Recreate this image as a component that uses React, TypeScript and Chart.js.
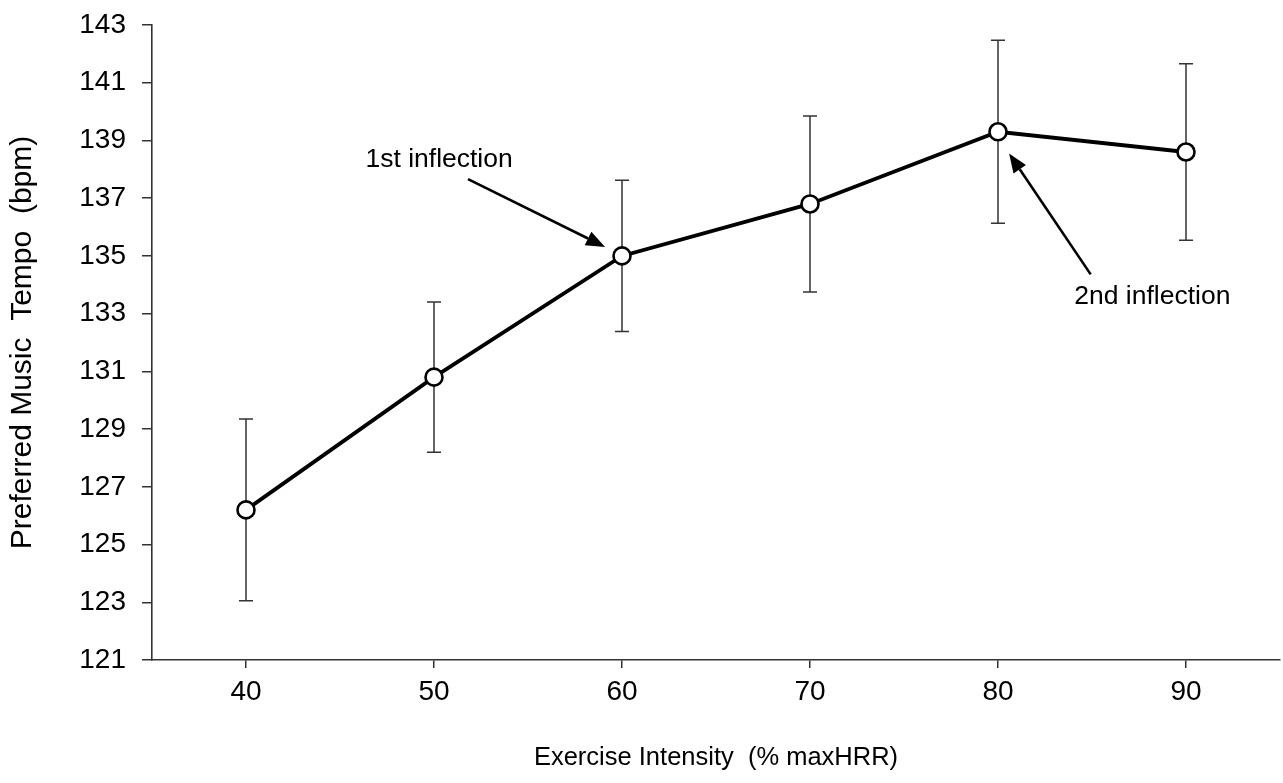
import React, { useEffect, useRef } from "react";
import { Chart, registerables } from "chart.js";

Chart.register(...registerables);

const intensity = [40, 50, 60, 70, 80, 90];
const tempoMean = [126.2, 130.8, 135.0, 136.8, 139.3, 138.6];
const tempoErr = [3.15, 2.6, 2.62, 3.05, 3.17, 3.06];
const xTicks = [40, 50, 60, 70, 80, 90];
const yTicks = [121, 123, 125, 127, 129, 131, 133, 135, 137, 139, 141, 143];

const annotationTexts = ["1st inflection", "2nd inflection"];
const annotationTextPos = [
  [50.27, 138.32],
  [88.21, 133.58],
];
const arrowTails = [
  [51.81, 137.66],
  [84.93, 134.36],
];
const arrowTips = [
  [59.1, 135.31],
  [80.59, 138.55],
];

const FONT = "'Liberation Sans', Arial, Helvetica, sans-serif";

const errorBarPlugin = {
  id: "errorBars",
  beforeDatasetsDraw(chart: any) {
    const { ctx, scales } = chart;
    const xs = scales.x;
    const ys = scales.y;
    ctx.save();
    ctx.strokeStyle = "#333";
    ctx.lineWidth = 1.5;
    const cap = 7;
    intensity.forEach((xv, i) => {
      const x = xs.getPixelForValue(xv);
      const yt = ys.getPixelForValue(tempoMean[i] + tempoErr[i]);
      const yb = ys.getPixelForValue(tempoMean[i] - tempoErr[i]);
      ctx.beginPath();
      ctx.moveTo(x, yt);
      ctx.lineTo(x, yb);
      ctx.moveTo(x - cap, yt);
      ctx.lineTo(x + cap, yt);
      ctx.moveTo(x - cap, yb);
      ctx.lineTo(x + cap, yb);
      ctx.stroke();
    });
    ctx.restore();
  },
};

const annotationPlugin = {
  id: "annotations",
  afterDatasetsDraw(chart: any) {
    const { ctx, scales } = chart;
    const xs = scales.x;
    const ys = scales.y;
    ctx.save();
    ctx.fillStyle = "#000";
    ctx.strokeStyle = "#000";
    ctx.font = `26.5px ${FONT}`;
    ctx.textAlign = "center";
    ctx.textBaseline = "middle";
    annotationTexts.forEach((t, i) => {
      ctx.fillText(
        t,
        xs.getPixelForValue(annotationTextPos[i][0]),
        ys.getPixelForValue(annotationTextPos[i][1])
      );
    });
    ctx.lineWidth = 2.6;
    arrowTails.forEach((tail, i) => {
      const x0 = xs.getPixelForValue(tail[0]);
      const y0 = ys.getPixelForValue(tail[1]);
      const x1 = xs.getPixelForValue(arrowTips[i][0]);
      const y1 = ys.getPixelForValue(arrowTips[i][1]);
      const ang = Math.atan2(y1 - y0, x1 - x0);
      const len = 19;
      const hw = 7.5;
      const bx = x1 - len * Math.cos(ang);
      const by = y1 - len * Math.sin(ang);
      ctx.beginPath();
      ctx.moveTo(x0, y0);
      ctx.lineTo(bx, by);
      ctx.stroke();
      ctx.beginPath();
      ctx.moveTo(x1, y1);
      ctx.lineTo(bx + hw * Math.sin(ang), by - hw * Math.cos(ang));
      ctx.lineTo(bx - hw * Math.sin(ang), by + hw * Math.cos(ang));
      ctx.closePath();
      ctx.fill();
    });
    ctx.restore();
  },
};

export default function App() {
  const canvasRef = useRef<HTMLCanvasElement | null>(null);

  useEffect(() => {
    if (!canvasRef.current) return;
    const chart = new Chart(canvasRef.current, {
      type: "line",
      data: {
        datasets: [
          {
            data: intensity.map((x, i) => ({ x, y: tempoMean[i] })),
            borderColor: "#000",
            borderWidth: 3.8,
            pointRadius: 8.5,
            pointHoverRadius: 8.5,
            pointBackgroundColor: "#fff",
            pointBorderColor: "#000",
            pointBorderWidth: 2.6,
            tension: 0,
          },
        ],
      },
      options: {
        animation: false,
        responsive: true,
        maintainAspectRatio: false,
        layout: { autoPadding: false, padding: { top: 25, right: 3, left: 0, bottom: 0 } },
        plugins: {
          legend: { display: false },
          tooltip: { enabled: false },
        },
        scales: {
          x: {
            type: "linear",
            min: 35,
            max: 95,
            afterBuildTicks: (scale: any) => {
              scale.ticks = xTicks.map((v) => ({ value: v }));
            },
            afterFit: (scale: any) => {
              scale.height = 123;
              scale.paddingLeft = 0;
              scale.paddingRight = 0;
            },
            grid: {
              display: true,
              drawOnChartArea: false,
              drawTicks: true,
              tickLength: 8,
              color: "#333",
              lineWidth: 1.5,
            },
            border: { display: true, color: "#333", width: 1.6 },
            ticks: {
              color: "#000",
              font: { family: FONT, size: 28 },
              padding: 7,
              maxRotation: 0,
            },
            title: {
              display: true,
              text: "Exercise Intensity  (% maxHRR)",
              color: "#000",
              font: { family: FONT, size: 25.5 },
              padding: { top: 0, bottom: 10 },
            },
          },
          y: {
            type: "linear",
            min: 121,
            max: 143,
            afterBuildTicks: (scale: any) => {
              scale.ticks = yTicks.map((v) => ({ value: v }));
            },
            afterFit: (scale: any) => {
              scale.width = 152;
              scale.paddingTop = 0;
              scale.paddingBottom = 0;
            },
            grid: {
              display: true,
              drawOnChartArea: false,
              drawTicks: true,
              tickLength: 10,
              color: "#333",
              lineWidth: 1.5,
            },
            border: { display: true, color: "#333", width: 1.6 },
            ticks: {
              color: "#000",
              font: { family: FONT, size: 28 },
              padding: 16,
            },
            title: {
              display: true,
              text: "Preferred Music  Tempo  (bpm)",
              color: "#000",
              font: { family: FONT, size: 30 },
              padding: { top: 5, bottom: 0 },
            },
          },
        },
      },
      plugins: [errorBarPlugin, annotationPlugin],
    });
    return () => chart.destroy();
  }, []);

  return (
    <div style={{ position: "fixed", left: 0, top: 0, width: 1283, height: 783, background: "#fff" }}>
      <canvas ref={canvasRef} />
    </div>
  );
}
